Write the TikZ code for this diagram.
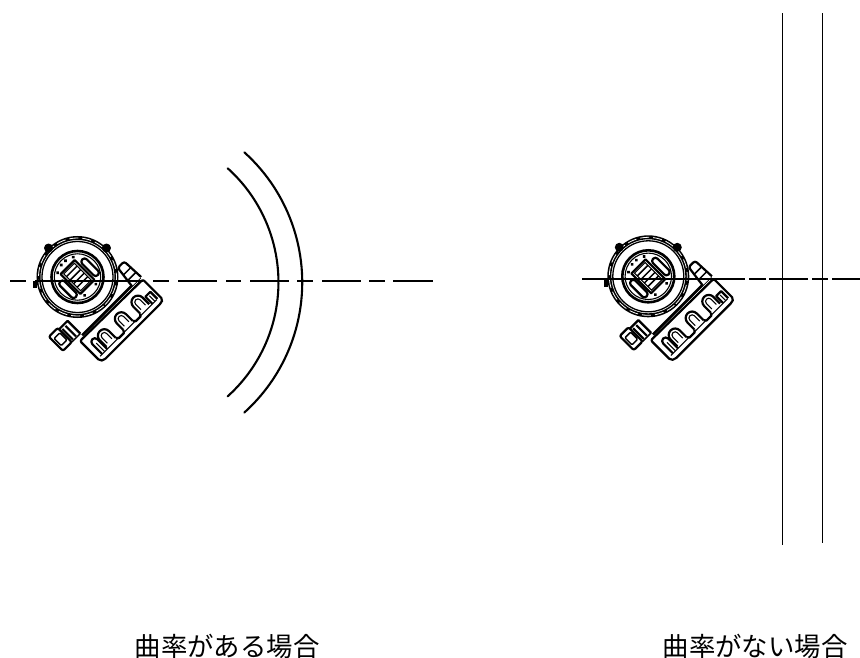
\documentclass[tikz,border=0pt]{standalone}
\usepackage{fontspec}
\newfontfamily\cjk{Noto Sans CJK JP}
\tikzset{
  mainline/.style={line width=2.1pt,black,line cap=round},
  wallline/.style={fill=black,draw=none},
  axisline/.style={line width=1.9pt,black},
  thin part/.style={line width=1.1pt,black},
  med part/.style={line width=1.5pt,black,line join=round},
  heavy part/.style={line width=2.2pt,black,line join=round},
  caption/.style={font=\cjk\fontsize{26.4pt}{30pt}\selectfont,inner sep=0pt,black},
  device/.pic={
    \begin{scope}[x=1pt,y=1pt,rotate=-45]
      % housing body
      \draw[heavy part,rounded corners=2pt] (48,44.5) -- (76,44.5) -- (77.5,41) -- (77.5,-40) -- (75,-43.5) -- (47,-43.5) -- cycle;
      \draw[line width=2.6pt,black] (44.5,44) -- (44.5,-38);
      \draw[thin part] (47.5,43) -- (47.5,-43);
      \draw[thin part] (72,40) -- (72,-40);
      % upper block
      \draw[heavy part,fill=white,rounded corners=2.5pt] (45,32) -- (22,35) -- (22,44) -- (45,45);
      \draw[med part] (31,34) -- (31,44.5);
      \draw[med part] (38,33) -- (38,45);
      % cable gland
      \draw[heavy part] (42,-38) -- (24,-38) -- (24,-50);
      \draw[med part] (42,-50) -- (42,-38);
      \draw[heavy part,fill=white,rounded corners=2pt] (22,-50) rectangle (42,-62.5);
      \draw[med part,rounded corners=1pt] (27,-52) rectangle (37,-60);
      \draw[heavy part] (26,-43) -- (41,-43);
      \draw[heavy part] (26,-47.5) -- (41,-47.5);
      % fins
      \foreach \c in {-22.5,1.5,25}{
        \draw[heavy part] (70,\c-6.5) -- (60.5,\c-6.5) arc[start angle=-90,end angle=-270,radius=6.5] -- (70,\c+6.5);
        \draw[thin part] (68,\c-3.2) -- (60.5,\c-3.2) arc[start angle=-90,end angle=-270,radius=3.2] -- (68,\c+3.2);
      }
      \foreach \a/\b in {-16/-5,8/18.5}{
        \draw[heavy part] (70,\a) -- (72.5,\a+2) -- (72.5,\b-2) -- (70,\b);
      }
      \draw[heavy part] (72,-37) -- (58,-37) arc[start angle=-90,end angle=-270,radius=3.5] -- (72,-30);
      \draw[thin part] (72,-33.5) -- (60,-33.5);
      \draw[heavy part] (72,41) -- (62,41) -- (62,34) -- (72,34);
      \draw[thin part] (64,37.5) -- (72,37.5);
      % face
      \fill[white] (0,0) circle[radius=40.5];
      \draw[line width=4pt,black] (0,0) circle[radius=39];
      \draw[line width=0.8pt,white,dash pattern=on 9pt off 4pt] (0,0) circle[radius=39];
      \draw[line width=1.3pt,black] (0,0) circle[radius=35.5];
      \fill[black] (-41,0) circle[radius=4.5];
      \fill[black] (0,41) circle[radius=4.5];
      \fill[black] (-26,-31) -- (-21,-36) -- (-24,-39) -- (-29,-34) -- cycle;
      \draw[line width=2.6pt,black] (0,0) circle[radius=26];
      \draw[thin part] (0,0) circle[radius=23.2];
      % display
      \draw[heavy part,fill=white] (-14,-10) rectangle (14,10);
      \foreach \u in {-8,-3,2,7}{
        \draw[med part] (\u,-7.5) -- (\u,7.5);
      }
      \draw[thin part] (-12,-7.5) rectangle (12,7.5);
      % slots
      \foreach \v in {15.8,-15.4}{
        \draw[heavy part,fill=white,rounded corners=3pt] (-9,\v-3.2) rectangle (13,\v+3.2);
      }
      % small dots
      \foreach \p in {(-17,11),(-17,-11),(18,-8),(18,8),(-20,3),(-20,-3)}{
        \fill[black] \p circle[radius=1.8];
      }
    \end{scope}
  }
}
\begin{document}
\begin{tikzpicture}[x=1pt,y=-1pt]
  \useasboundingbox (0,0) rectangle (860,658);
  \fill[white] (0,0) rectangle (860,658);
  % left device and axis
  \pic at (77.5,277) {device};
  \draw[axisline] (10,281) -- (26,281) (35,281) -- (143,281) (153,281) -- (169,281)
    (178,281) -- (217,281) (226,281) -- (241,281) (250,281) -- (289,281)
    (297,281) -- (313,281) (322,281) -- (361,281) (369,281) -- (385,281) (393,281) -- (433,281);
  % arcs
  \draw[mainline] (244.3,152.3) arc[start angle=-48,end angle=48,radius=175.1];
  \draw[mainline] (227.7,168.3) arc[start angle=-48,end angle=48,radius=153.4];
  % right device and axis
  \pic at (648.3,276.3) {device};
  \draw[axisline] (582,279) -- (745,279) (749,279) -- (766,279) (769,279) -- (808,279)
    (812,279) -- (828,279) (832,279) -- (860,279);
  \fill[wallline] (781.6,13) rectangle (783.4,545);
  \fill[wallline] (821.6,13) rectangle (823.4,543);
  % captions
  \node[caption,anchor=west] (capa) at (134.5,646) {曲率がある場合};
  \node[caption,anchor=west] (capb) at (662.5,646) {曲率がない場合};
\end{tikzpicture}
\end{document}
